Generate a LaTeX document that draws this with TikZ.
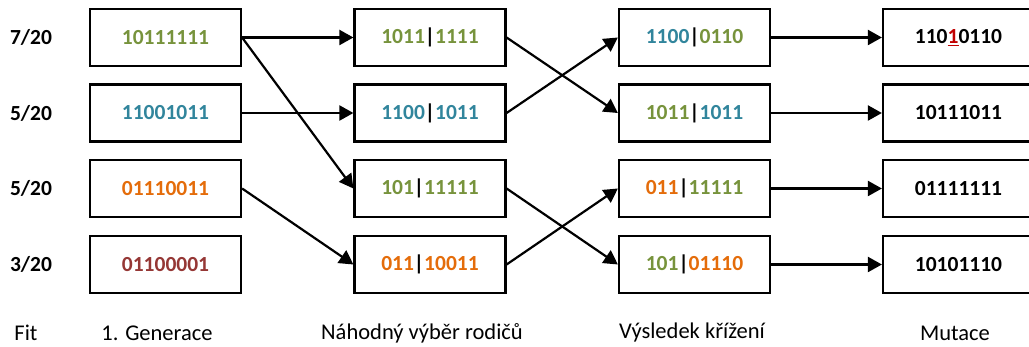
\documentclass[tikz,border=0pt]{standalone}
\usepackage{fontspec}
\setmainfont{Carlito}
\usetikzlibrary{arrows.meta}
\definecolor{genGreen}{HTML}{77933C}
\definecolor{genTeal}{HTML}{31859C}
\definecolor{genOrange}{HTML}{E46C0A}
\definecolor{genBrown}{HTML}{953735}
\definecolor{mutRed}{HTML}{C00000}
\newcommand{\gG}[1]{\textcolor{genGreen}{#1}}
\newcommand{\gT}[1]{\textcolor{genTeal}{#1}}
\newcommand{\gO}[1]{\textcolor{genOrange}{#1}}
\newcommand{\cut}{\textcolor{black}{|}}

\begin{document}
\begin{tikzpicture}[x=1pt,y=-1pt,
    chrom/.style={draw,line width=2.2pt,minimum width=151pt,minimum height=57pt,
      font=\fontsize{21.5}{25}\selectfont\bfseries},
    fitval/.style={font=\fontsize{21.5}{25}\selectfont\bfseries},
    caption/.style={font=\fontsize{22.5}{26}\selectfont},
    link/.style={line width=2.2pt,-{Triangle[length=14pt,width=15pt]}}]
    \useasboundingbox (0,0) rectangle (1029,347);
    % fitness
    \node[fitval] (f1) at (31,37.5) {7/20};
    \node[fitval] (f2) at (31,113) {5/20};
    \node[fitval] (f3) at (31,188.5) {5/20};
    \node[fitval] (f4) at (31,264.5) {3/20};
    % 1. generace
    \node[chrom] (g1) at (165.5,37.5) {\gG{10111111}};
    \node[chrom] (g2) at (165.5,113) {\gT{11001011}};
    \node[chrom] (g3) at (165.5,188.5) {\gO{01110011}};
    \node[chrom] (g4) at (165.5,264.5) {\textcolor{genBrown}{01100001}};
    % vyber rodicu
    \node[chrom] (p1) at (430,37.5) {\gG{1011}\cut\gG{1111}};
    \node[chrom] (p2) at (430,113) {\gT{1100}\cut\gT{1011}};
    \node[chrom] (p3) at (430,188.5) {\gG{101}\cut\gG{11111}};
    \node[chrom] (p4) at (430,264.5) {\gO{011}\cut\gO{10011}};
    % krizeni
    \node[chrom] (k1) at (694.5,37.5) {\gT{1100}\cut\gG{0110}};
    \node[chrom] (k2) at (694.5,113) {\gG{1011}\cut\gT{1011}};
    \node[chrom] (k3) at (694.5,188.5) {\gO{011}\cut\gG{11111}};
    \node[chrom] (k4) at (694.5,264.5) {\gG{101}\cut\gO{01110}};
    % mutace
    \node[chrom] (m1) at (958.5,37.5) {110\textcolor{mutRed}{\underline{1}}0110};
    \node[chrom] (m2) at (958.5,113) {10111011};
    \node[chrom] (m3) at (958.5,188.5) {01111111};
    \node[chrom] (m4) at (958.5,264.5) {10101110};
    % connectors
    \draw[link] (g1.east) -- (p1.west);
    \draw[link] (g1.east) -- (p3.west);
    \draw[link] (g2.east) -- (p2.west);
    \draw[link] (g3.east) -- (p4.west);
    \draw[link] (p1.east) -- (k2.west);
    \draw[link] (p2.east) -- (k1.west);
    \draw[link] (p3.east) -- (k4.west);
    \draw[link] (p4.east) -- (k3.west);
    \foreach \i in {1,...,4}
      \draw[link] (k\i.east) -- (m\i.west);
    % popisky
    \node[caption] (t1) at (26,333) {Fit};
    \node[caption] (t2) at (157,333) {1. Generace};
    \node[caption] (t3) at (422,333) {Náhodný výběr rodičů};
    \node[caption] (t4) at (692,333) {Výsledek křížení};
    \node[caption] (t5) at (955,333) {Mutace};
\end{tikzpicture}
\end{document}
